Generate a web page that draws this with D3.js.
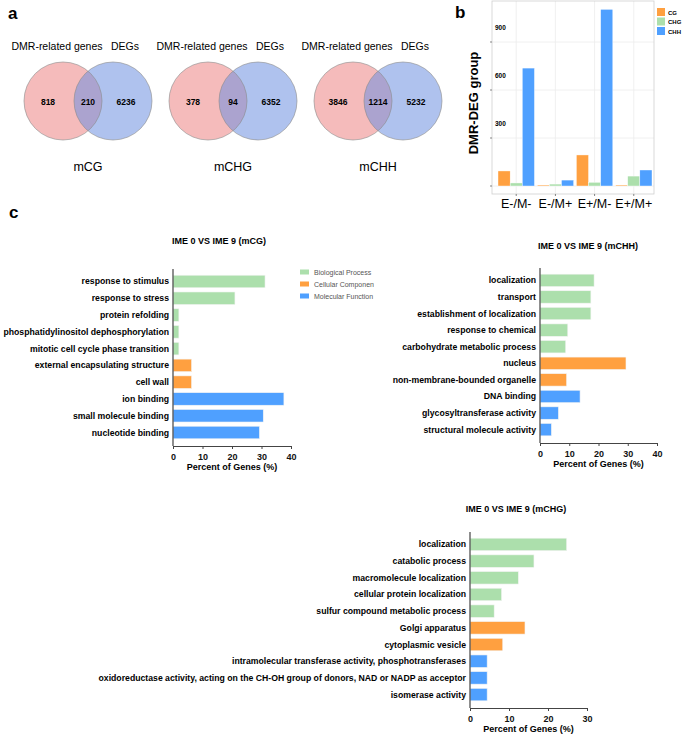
<!DOCTYPE html>
<html>
<head>
<meta charset="UTF-8">
<title>DMR / DEG figure</title>
<script src="https://cdn.jsdelivr.net/npm/d3@7"></script>
<style>
body { margin: 0; background: #fff; }
text { font-family: "Liberation Sans", Arial, sans-serif; }
</style>
</head>
<body>
<script>
// ---- panel a: venn counts
var vennNames = ["mCG", "mCHG", "mCHH"];
var dmrOnly = [818, 378, 3846];
var overlap = [210, 94, 1214];
var degOnly = [6236, 6352, 5232];

// ---- panel b: DMR-DEG groups
var groups = ["E-/M-", "E-/M+", "E+/M-", "E+/M+"];
var contexts = ["CG", "CHG", "CHH"];
var cgCounts = [94, 6, 194, 6];
var chgCounts = [19, 12, 23, 62];
var chhCounts = [737, 37, 1104, 100];
var bTicks = [300, 600, 900];

// ---- panel c: GO terms
var goCats = ["Biological Process", "Cellular Component", "Molecular Function"];
var cgTerms = ["response to stimulus", "response to stress", "protein refolding",
  "phosphatidylinositol dephosphorylation", "mitotic cell cycle phase transition",
  "external encapsulating structure", "cell wall", "ion binding",
  "small molecule binding", "nucleotide binding"];
var cgPct = [31.2, 21, 2, 2, 2, 6.3, 6.3, 37.6, 30.6, 29.3];
var cgCat = [0, 0, 0, 0, 0, 1, 1, 2, 2, 2];

var chhTerms = ["localization", "transport", "establishment of localization",
  "response to chemical", "carbohydrate metabolic process", "nucleus",
  "non-membrane-bounded organelle", "DNA binding", "glycosyltransferase activity",
  "structural molecule activity"];
var chhPct = [18.5, 17.4, 17.4, 9.5, 8.8, 29.4, 9.1, 13.7, 6.3, 3.9];
var chhCat = [0, 0, 0, 0, 0, 1, 1, 2, 2, 2];

var chgTerms = ["localization", "catabolic process", "macromolecule localization",
  "cellular protein localization", "sulfur compound metabolic process",
  "Golgi apparatus", "cytoplasmic vesicle",
  "intramolecular transferase activity, phosphotransferases",
  "oxidoreductase activity, acting on the CH-OH group of donors, NAD or NADP as acceptor",
  "isomerase activity"];
var chgPct = [24.8, 16.4, 12.4, 8.1, 6.2, 14.1, 8.4, 4.4, 4.4, 4.4];
var chgCat = [0, 0, 0, 0, 0, 1, 1, 2, 2, 2];

var barColors = ["#ACDFAC", "#FFA040", "#4FA0FF"];

var width = 685, height = 736;
var svg = d3.select("body").append("svg")
  .attr("width", width)
  .attr("height", height);

// panel letters
[["a", 8, 19], ["b", 455, 18], ["c", 9, 218]].forEach(function(p) {
  svg.append("text").attr("x", p[1]).attr("y", p[2])
    .style("font-size", "17px").style("font-weight", "bold").text(p[0]);
});

// ============ panel a ============
var vx = d3.scalePoint().domain(vennNames).range([88, 378]);
var vy = 101, vr = 39, vd = 25;
vennNames.forEach(function(name, i) {
  var cx = vx(name);
  var g = svg.append("g");
  g.append("circle").attr("cx", cx - vd).attr("cy", vy).attr("r", vr)
    .attr("fill", "#EE8E8E").attr("fill-opacity", 0.6);
  g.append("circle").attr("cx", cx + vd).attr("cy", vy).attr("r", vr)
    .attr("fill", "#6E8FE0").attr("fill-opacity", 0.55);
  g.selectAll("circle.o").data([-vd, vd]).enter().append("circle")
    .attr("cx", function(d) { return cx + d; }).attr("cy", vy).attr("r", vr)
    .attr("fill", "none").attr("stroke", "#8a8a8a").attr("stroke-width", 0.6);
  g.append("text").attr("x", cx - 31).attr("y", 50).attr("text-anchor", "middle")
    .style("font-size", "10.5px").text("DMR-related genes");
  g.append("text").attr("x", cx + 37).attr("y", 50).attr("text-anchor", "middle")
    .style("font-size", "10.5px").text("DEGs");
  [[-40, dmrOnly[i]], [0, overlap[i]], [38, degOnly[i]]].forEach(function(n) {
    g.append("text").attr("x", cx + n[0]).attr("y", vy + 3.5).attr("text-anchor", "middle")
      .style("font-size", "8.5px").style("font-weight", "bold").text(n[1]);
  });
  g.append("text").attr("x", cx).attr("y", 171).attr("text-anchor", "middle")
    .style("font-size", "12.5px").text(name);
});

// ============ panel b ============
var bLeft = 492, bRight = 654, bTop = 1, bBottom = 194;
var bx = d3.scaleBand().domain(groups).range([498, 652]).paddingInner(0.07);
var bsub = d3.scaleBand().domain(contexts).range([0, bx.bandwidth()]);
var by = d3.scaleLinear().domain([0, 900]).range([186, 42]);
var bSeries = [cgCounts, chgCounts, chhCounts];

var gb = svg.append("g");
// grid
gb.selectAll("line.hg").data([0].concat(bTicks)).enter().append("line")
  .attr("x1", bLeft).attr("x2", bRight)
  .attr("y1", function(d) { return by(d); }).attr("y2", function(d) { return by(d); })
  .attr("stroke", "#ececec").attr("stroke-width", 0.8);
gb.selectAll("line.vg").data(groups).enter().append("line")
  .attr("x1", function(d) { return bx(d) + bx.bandwidth() / 2; })
  .attr("x2", function(d) { return bx(d) + bx.bandwidth() / 2; })
  .attr("y1", bTop).attr("y2", bBottom)
  .attr("stroke", "#ececec").attr("stroke-width", 0.8);
// bars
bSeries.forEach(function(vals, k) {
  gb.selectAll("rect.s" + k).data(groups).enter().append("rect")
    .attr("x", function(d) { return bx(d) + bsub(contexts[k]); })
    .attr("width", bsub.bandwidth())
    .attr("y", function(d, i) { return by(vals[i]); })
    .attr("height", function(d, i) { return by(0) - by(vals[i]); })
    .attr("fill", barColors[[1, 0, 2][k]])
    .attr("stroke", "#fff").attr("stroke-width", 0.4);
});
// frame
gb.append("rect").attr("x", bLeft).attr("y", bTop)
  .attr("width", bRight - bLeft).attr("height", bBottom - bTop)
  .attr("fill", "none").attr("stroke", "#cfcfcf").attr("stroke-width", 0.8);
// small ticks
gb.selectAll("line.yt").data([0].concat(bTicks)).enter().append("line")
  .attr("x1", bLeft - 2).attr("x2", bLeft)
  .attr("y1", function(d) { return by(d); }).attr("y2", function(d) { return by(d); })
  .attr("stroke", "#555").attr("stroke-width", 0.7);
gb.selectAll("line.xt").data(groups).enter().append("line")
  .attr("x1", function(d) { return bx(d) + bx.bandwidth() / 2; })
  .attr("x2", function(d) { return bx(d) + bx.bandwidth() / 2; })
  .attr("y1", bBottom).attr("y2", bBottom + 2)
  .attr("stroke", "#555").attr("stroke-width", 0.7);
// tick labels (sit inside the frame)
gb.selectAll("text.yl").data(bTicks).enter().append("text")
  .attr("x", 495).attr("y", function(d) { return by(d) - 12; })
  .style("font-size", "6.5px").style("font-weight", "bold").text(function(d) { return d; });
gb.selectAll("text.xl").data(groups).enter().append("text")
  .attr("x", function(d) { return bx(d) + bx.bandwidth() / 2; })
  .attr("y", 208).attr("text-anchor", "middle")
  .style("font-size", "12.5px").text(function(d) { return d; });
gb.append("text")
  .attr("transform", "translate(478,103) rotate(-90)")
  .attr("text-anchor", "middle")
  .style("font-size", "13px").style("font-weight", "bold").text("DMR-DEG group");
// legend
var bl = gb.selectAll("g.leg").data(contexts).enter().append("g")
  .attr("transform", function(d, i) { return "translate(657," + (8 + i * 9.5) + ")"; });
bl.append("rect").attr("width", 8).attr("height", 8)
  .attr("fill", function(d, i) { return barColors[[1, 0, 2][i]]; });
bl.append("text").attr("x", 11).attr("y", 6.5)
  .style("font-size", "6px").style("font-weight", "bold").text(function(d) { return d; });

// ============ panel c ============
function goChart(cfg) {
  var g = svg.append("g");
  var x = d3.scaleLinear().domain([0, cfg.max]).range([cfg.x0, cfg.x0 + cfg.w]);
  var y = d3.scaleBand().domain(cfg.terms).range([cfg.yTop + 2, cfg.yBottom - 3])
    .paddingInner(0.25).paddingOuter(0.25);

  g.append("text").attr("x", cfg.titleX).attr("y", cfg.titleY).attr("text-anchor", "middle")
    .style("font-size", "9px").style("font-weight", "bold").text(cfg.title);

  g.selectAll("rect.bar").data(cfg.terms).enter().append("rect")
    .attr("x", x(0)).attr("y", function(d) { return y(d); })
    .attr("width", function(d, i) { return x(cfg.vals[i]) - x(0); })
    .attr("height", y.bandwidth())
    .attr("fill", function(d, i) { return barColors[cfg.cats[i]]; })
    .attr("stroke", "#f4f4f4").attr("stroke-width", 0.6);

  g.selectAll("text.term").data(cfg.terms).enter().append("text")
    .attr("x", cfg.x0 - 4).attr("y", function(d) { return y(d) + y.bandwidth() / 2 + 3; })
    .attr("text-anchor", "end")
    .style("font-size", "8.7px").style("font-weight", "bold").text(function(d) { return d; });

  var ax = g.append("g").attr("transform", "translate(0," + cfg.yBottom + ")")
    .call(d3.axisBottom(x).tickValues(d3.range(0, cfg.max + 1, 10)).tickSize(3).tickSizeOuter(0));
  ax.select(".domain").attr("stroke", "#444").attr("stroke-width", 1.2);
  ax.selectAll(".tick line").attr("stroke", "#444");
  ax.selectAll(".tick text").attr("dy", "0.9em")
    .style("font-size", "9px").style("font-weight", "bold")
    .style("font-family", "'Liberation Sans', Arial, sans-serif").attr("fill", "#111");

  g.append("line").attr("x1", cfg.x0).attr("x2", cfg.x0)
    .attr("y1", cfg.yTop).attr("y2", cfg.yBottom)
    .attr("stroke", "#444").attr("stroke-width", 1.2);

  g.append("text").attr("x", cfg.x0 + cfg.w / 2).attr("y", cfg.yBottom + 24)
    .attr("text-anchor", "middle")
    .style("font-size", "9px").style("font-weight", "bold").text("Percent of Genes (%)");
  return g;
}

goChart({ title: "IME 0 VS IME 9 (mCG)", titleX: 219, titleY: 244, terms: cgTerms, vals: cgPct,
  cats: cgCat, max: 40, x0: 173, w: 118, yTop: 269, yBottom: 446 });
goChart({ title: "IME 0 VS IME 9 (mCHH)", titleX: 588, titleY: 249, terms: chhTerms, vals: chhPct,
  cats: chhCat, max: 40, x0: 540, w: 117, yTop: 268, yBottom: 443 });
goChart({ title: "IME 0 VS IME 9 (mCHG)", titleX: 516, titleY: 512, terms: chgTerms, vals: chgPct,
  cats: chgCat, max: 30, x0: 470, w: 117, yTop: 532, yBottom: 708 });

// GO legend (the middle label is cut off in the original)
svg.append("clipPath").attr("id", "legclip").append("rect")
  .attr("x", 295).attr("y", 260).attr("width", 79).attr("height", 50);
var gl = svg.append("g").attr("clip-path", "url(#legclip)")
  .selectAll("g").data(goCats).enter().append("g")
  .attr("transform", function(d, i) { return "translate(300," + (269.5 + i * 12) + ")"; });
gl.append("rect").attr("width", 9).attr("height", 5)
  .attr("fill", function(d, i) { return barColors[i]; });
gl.append("text").attr("x", 14).attr("y", 5)
  .style("font-size", "7px").attr("fill", "#555").text(function(d) { return d; });
</script>
</body>
</html>
